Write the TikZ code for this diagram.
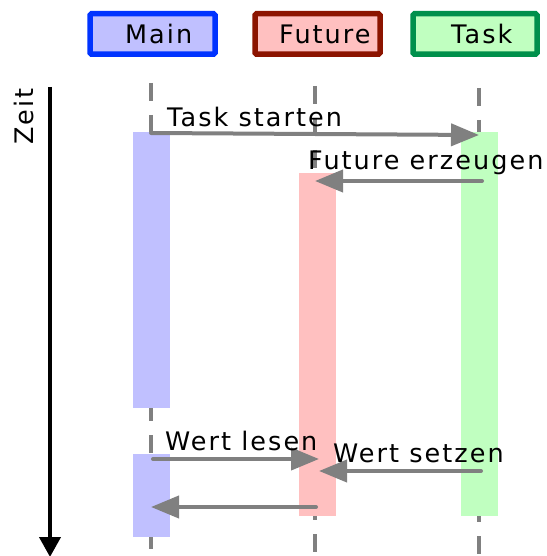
\documentclass[tikz,border=0pt]{standalone}
\usepackage{fontspec}
\setmainfont{DejaVu Sans}[LetterSpace=8]
\usetikzlibrary{arrows.meta}
\definecolor{mainfill}{HTML}{C0C0FF}
\definecolor{futfill}{HTML}{FFC0C0}
\definecolor{taskfill}{HTML}{C0FFC0}
\definecolor{mainline}{HTML}{0033FF}
\definecolor{futline}{HTML}{8C1400}
\definecolor{taskline}{HTML}{00904C}
\definecolor{arrgrey}{HTML}{808080}
\begin{document}
\begin{tikzpicture}[x=1pt,y=-1pt,
  hdr/.style={draw, line width=5.5pt, rounded corners=1.5pt, minimum width=125pt, minimum height=40.5pt, inner sep=0pt},
  lbl/.style={anchor=base west, inner sep=0pt, font=\fontsize{25.5}{29}\selectfont},
  life/.style={draw=arrgrey, line width=4pt, dash pattern=on 18pt off 14pt},
  bar/.style={inner sep=0pt, minimum width=37pt, draw=none},
  msg/.style={draw=arrgrey, line width=4pt, line cap=round, -{Triangle[length=28pt,width=22pt]}}]
\useasboundingbox (0,0) rectangle (546,556);
% headers
\node[hdr, draw=mainline, fill=mainfill] (mainH) at (152.5,34) {};
\node[hdr, draw=futline, fill=futfill] (futH) at (317.5,34) {};
\node[hdr, draw=taskline, fill=taskfill, minimum width=124pt] (taskH) at (475,34) {};
\node[lbl] (mainT) at (125,44) {Main};
\node[lbl] (futT) at (279,44) {Future};
\node[lbl] (taskT) at (451,44) {Task};
% lifelines
\coordinate (mTop) at (151,83);
\coordinate (mBot) at (151,560);
\coordinate (fTop) at (315,86);
\coordinate (fBot) at (315,560);
\coordinate (tTop) at (479,88);
\coordinate (tBot) at (479,560);
\draw[life] (mTop) -- (mBot);
\draw[life] (fTop) -- (fBot);
\draw[life] (tTop) -- (tBot);
% activation bars
\node[bar, fill=mainfill, minimum height=276pt] (mb1) at (151.5,270) {};
\node[bar, fill=mainfill, minimum height=83pt] (mb2) at (151.5,495.5) {};
\node[bar, fill=futfill, minimum height=343pt] (fb) at (317.5,344.5) {};
\node[bar, fill=taskfill, minimum height=384pt] (tb) at (479.5,324) {};
% time axis
\coordinate (zTop) at (50,87);
\coordinate (zBot) at (50,557);
\draw[line width=4pt, -{Triangle[length=20pt,width=21pt]}] (zTop) -- (zBot);
\node[lbl, rotate=90] (zeit) at (33,145) {Zeit};
% messages
\coordinate (a1) at (151,133);
\coordinate (a2) at (479,135);
\draw[msg] (a1) -- (a2);
\node[lbl] (l1) at (167,127) {Task starten};
\coordinate (b1) at (482,181);
\coordinate (b2) at (315,181);
\draw[msg] (b1) -- (b2);
\node[lbl] (l2) at (308,170) {Future erzeugen};
\coordinate (c1) at (153,459);
\coordinate (c2) at (319,459);
\draw[msg] (c1) -- (c2);
\node[lbl] (l3) at (165,450) {Wert lesen};
\coordinate (d1) at (481,471);
\coordinate (d2) at (319,471);
\draw[msg] (d1) -- (d2);
\node[lbl] (l4) at (333,462) {Wert setzen};
\coordinate (e1) at (316,507);
\coordinate (e2) at (151,507);
\draw[msg] (e1) -- (e2);
\end{tikzpicture}
\end{document}
